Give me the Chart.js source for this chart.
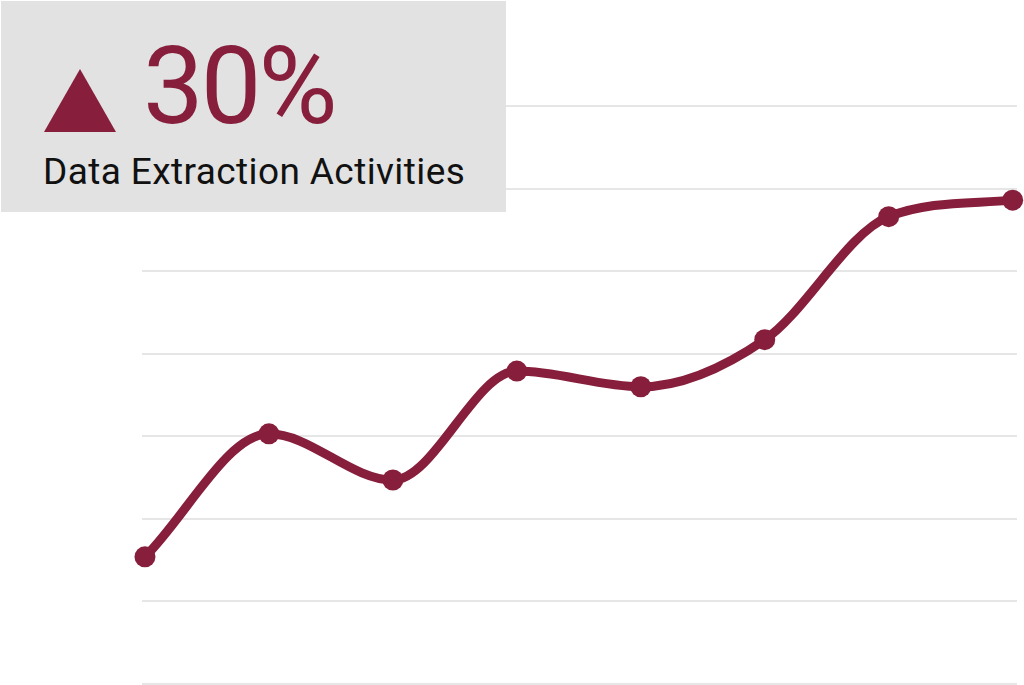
<!DOCTYPE html>
<html lang="en">
<head>
    <meta charset="UTF-8">
    <title>Data Extraction Activities</title>
    <script src="https://cdn.jsdelivr.net/npm/chart.js@4.4.1/dist/chart.umd.min.js"></script>
    <style>
        html, body { margin: 0; padding: 0; background: #fff; }
        #wrap { position: relative; width: 1024px; height: 685px; overflow: hidden; }
        #badge { position: absolute; left: 1px; top: 1px; width: 505px; height: 211px; background: #e2e2e2; font-family: Roboto, sans-serif; }
        #tri { position: absolute; left: 43px; top: 68px; width: 72px; height: 63px; background: #861e3c; clip-path: polygon(50% 0, 100% 100%, 0 100%); }
        #pct { position: absolute; left: 142px; top: 31px; font-size: 108px; line-height: 1; color: #861e3c; font-weight: 400; letter-spacing: -3px; white-space: nowrap; }
        #sub { position: absolute; left: 42px; top: 152px; font-size: 37px; line-height: 1; color: #111; letter-spacing: 0.4px; white-space: nowrap; }
    </style>
</head>
<body>
<div id="wrap">
    <canvas id="chart"></canvas>
    <div id="badge">
        <div id="tri"></div>
        <div id="pct">30%</div>
        <div id="sub">Data Extraction Activities</div>
    </div>
</div>
<script>
    // readings, 8 periods, grid step = 10
    const periods = ['P1', 'P2', 'P3', 'P4', 'P5', 'P6', 'P7', 'P8'];
    const activity = [15.4, 30.3, 24.7, 37.9, 36.0, 41.7, 56.6, 58.6];
    const yTicks = [0, 10, 20, 30, 40, 50, 60, 70];

    const lineColor = '#861e3c';

    const points = activity.map((v, i) => ({ x: i, y: v }));

    const ctx = document.getElementById('chart').getContext('2d');
    const myChart = new Chart(ctx, {
        type: 'line',
        data: {
            labels: periods,
            datasets: [{
                label: 'Data Extraction Activities',
                data: points,
                borderColor: lineColor,
                backgroundColor: lineColor,
                borderWidth: 9,
                pointRadius: 10.5,
                pointHoverRadius: 10.5,
                pointBorderWidth: 0,
                cubicInterpolationMode: 'monotone',
                clip: false,
                fill: false
            }]
        },
        options: {
            responsive: true,
            maintainAspectRatio: false,
            animation: false,
            layout: { autoPadding: false, padding: { left: 142, right: 7, top: 106, bottom: 1 } },
            plugins: { legend: { display: false }, tooltip: { enabled: false } },
            scales: {
                x: {
                    type: 'linear',
                    display: false,
                    min: -0.024,
                    max: 7.035
                },
                y: {
                    min: yTicks[0],
                    max: yTicks[yTicks.length - 1],
                    afterFit: s => { s.width = 0; },
                    afterBuildTicks: s => { s.ticks = yTicks.map(v => ({ value: v })); },
                    ticks: { display: false },
                    border: { display: false },
                    grid: { color: '#e6e6e6', lineWidth: 2, drawTicks: false }
                }
            }
        }
    });
</script>
</body>
</html>
